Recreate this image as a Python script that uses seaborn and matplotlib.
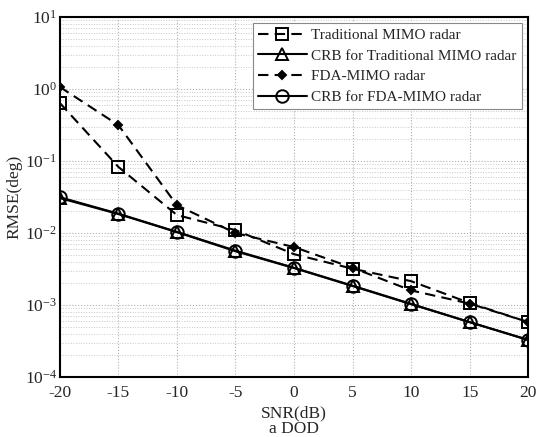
import numpy as np
import pandas as pd
import matplotlib
matplotlib.use('Agg')
import matplotlib.pyplot as plt
import seaborn as sns

snr = [-20, -15, -10, -5, 0, 5, 10, 15, 20]
trad_mimo = [0.64, 0.083, 0.0178, 0.011, 0.0051, 0.0032, 0.00215, 0.00107, 0.00058]
crb_trad = [0.0306, 0.0184, 0.0103, 0.0056, 0.00327, 0.00184, 0.00103, 0.00058, 0.000327]
fda_mimo = [1.07, 0.316, 0.0244, 0.0100, 0.0064, 0.0033, 0.0016, 0.00105, 0.00058]
crb_fda = [0.0315, 0.0186, 0.0104, 0.0057, 0.0033, 0.00186, 0.00104, 0.00058, 0.00033]

labels = ['Traditional MIMO radar', 'CRB for Traditional MIMO radar',
          'FDA-MIMO radar', 'CRB for FDA-MIMO radar']

sns.set_style('white')
plt.rcParams['font.family'] = ['Liberation Serif', 'DejaVu Serif']
plt.rcParams['mathtext.fontset'] = 'stix'

fig = plt.figure(figsize=(5.39, 4.37), dpi=100)
ax = fig.add_axes([0.111, 0.137, 0.869, 0.824])

styles = [
    dict(marker='s', markersize=8, markerfacecolor='none', linestyle=(0, (5, 3))),
    dict(marker='^', markersize=8, markerfacecolor='none', linestyle='-'),
    dict(marker='D', markersize=4, markerfacecolor='black', linestyle=(0, (5, 3))),
    dict(marker='o', markersize=9, markerfacecolor='none', linestyle='-'),
]
for vals, lab, st in zip([trad_mimo, crb_trad, fda_mimo, crb_fda], labels, styles):
    sns.lineplot(x=snr, y=vals, ax=ax, color='black', linewidth=1.5,
                 markeredgecolor='black', markeredgewidth=1.4, label=lab, **st)

ax.set_yscale('log')
ax.set_xlim(-20, 20)
ax.set_ylim(1e-4, 10)
ax.set_xticks(snr)
ax.set_xticklabels([str(s) for s in snr])
ax.grid(True, which='major', linestyle=':', color='#b0b0b0', linewidth=0.8)
ax.grid(True, which='minor', axis='y', linestyle=':', color='#c8c8c8', linewidth=0.7)
for s in ax.spines.values():
    s.set_color('black')
    s.set_linewidth(1.5)
ax.tick_params(axis='both', which='major', labelsize=12.5, direction='in', length=4, color='black')
ax.tick_params(axis='x', which='major', pad=6)
ax.tick_params(axis='y', which='major', pad=2)
ax.tick_params(axis='y', which='minor', direction='in', length=2, color='black')
ax.set_xlabel('SNR(dB)\na DOD', fontsize=12.5, linespacing=0.95, labelpad=3)
ax.set_ylabel('RMSE(deg)', fontsize=12.5, labelpad=2)

leg = ax.legend(loc='upper right', fontsize=11, frameon=True, fancybox=False,
                edgecolor='#888888', framealpha=1, borderpad=0.35, labelspacing=0.45,
                handlelength=3.2, handletextpad=0.3, borderaxespad=0.4)
leg.get_frame().set_linewidth(0.8)

fig.savefig('out.png', dpi=100)
